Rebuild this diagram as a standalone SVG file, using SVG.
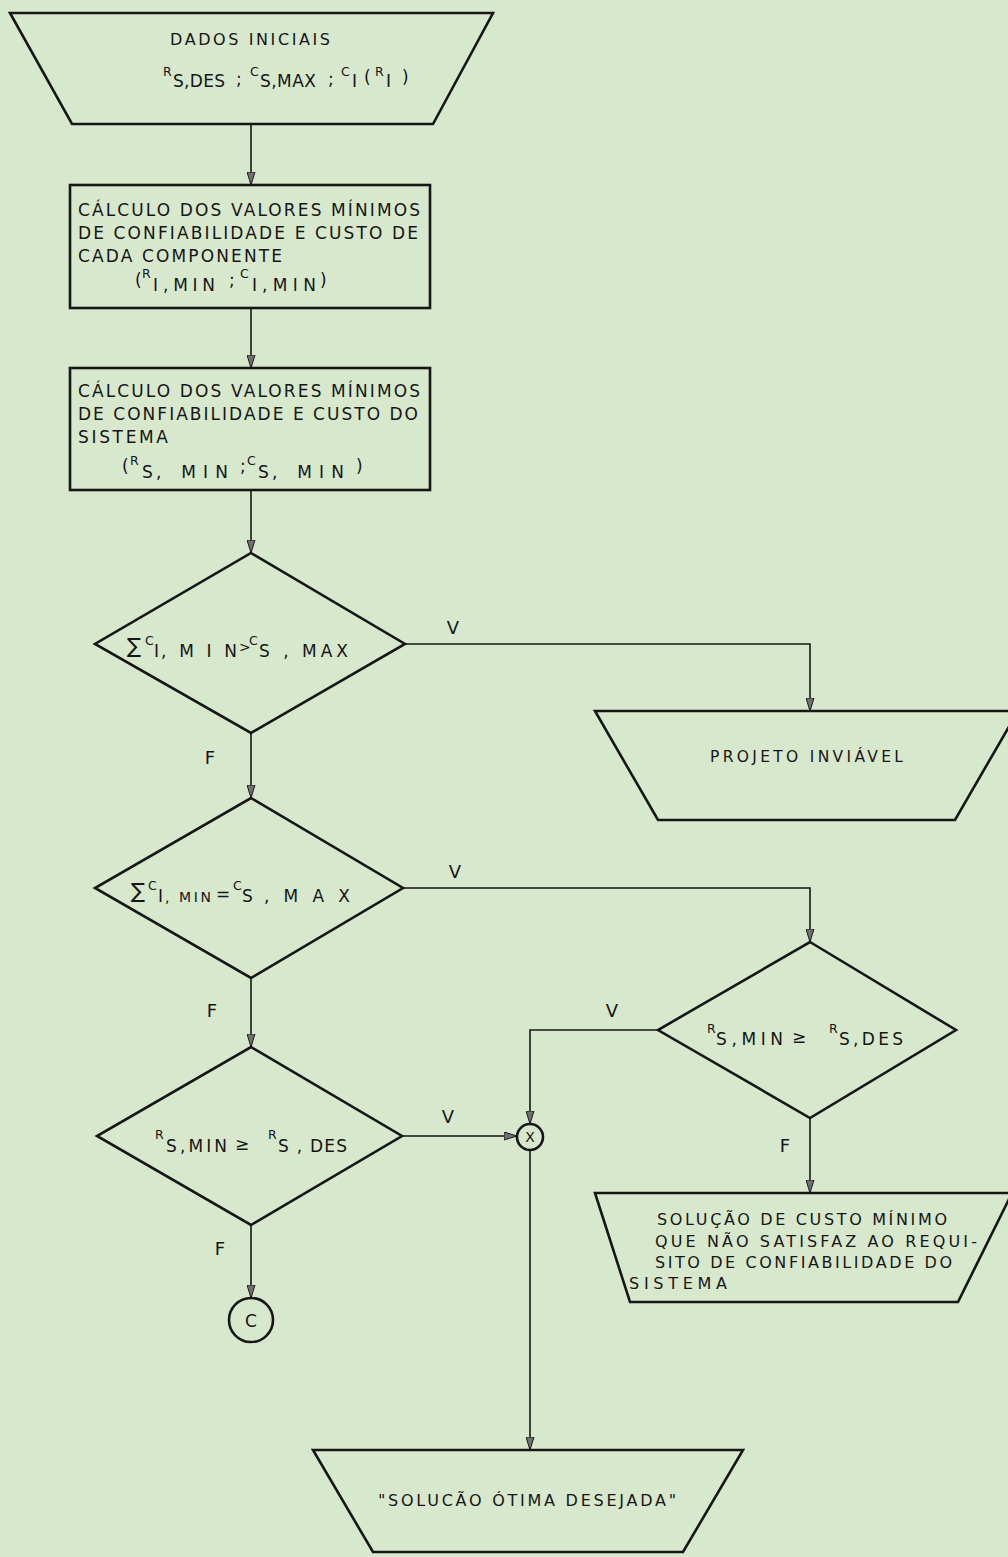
<svg xmlns="http://www.w3.org/2000/svg" width="1008" height="1557" viewBox="0 0 1008 1557">
<style>
.bg{fill:#d8e8cd}
.shape{fill:none;stroke:#161616;stroke-width:2.6;stroke-linejoin:miter}
.conn{fill:none;stroke:#161616;stroke-width:1.6}
.t{font-family:"DejaVu Sans","Liberation Sans",Arial,sans-serif;font-size:17px;fill:#161616}
.t16{font-size:16px}
.t15{font-size:15.5px}
.m{font-size:12.5px}
.sig{font-size:21px}
.small{font-size:14px}
.lbl{font-family:"DejaVu Sans","Liberation Sans",Arial,sans-serif;font-size:18px;fill:#161616;text-anchor:middle}
</style>
<defs>
<marker id="arr" markerUnits="userSpaceOnUse" markerWidth="14" markerHeight="9" refX="13" refY="4.5" orient="auto">
<path d="M0,0.5 L13,4.5 L0,8.5 z" fill="#707070" stroke="#1a1a1a" stroke-width="1"/>
</marker>
</defs>
<rect class="bg" x="0" y="0" width="1008" height="1557"/>

<g id="connectors">
<line class="conn" x1="251" y1="124" x2="251" y2="185" marker-end="url(#arr)"/>
<line class="conn" x1="251" y1="308" x2="251" y2="368" marker-end="url(#arr)"/>
<line class="conn" x1="251" y1="490" x2="251" y2="553" marker-end="url(#arr)"/>
<line class="conn" x1="251" y1="733" x2="251" y2="798" marker-end="url(#arr)"/>
<polyline class="conn" points="405,644 810,644 810,711" marker-end="url(#arr)"/>
<line class="conn" x1="251" y1="978" x2="251" y2="1047" marker-end="url(#arr)"/>
<polyline class="conn" points="403,888 810,888 810,942" marker-end="url(#arr)"/>
<polyline class="conn" points="658,1030 530,1030 530,1124" marker-end="url(#arr)"/>
<line class="conn" x1="402" y1="1136" x2="517" y2="1136" marker-end="url(#arr)"/>
<line class="conn" x1="810" y1="1118" x2="810" y2="1193" marker-end="url(#arr)"/>
<line class="conn" x1="251" y1="1225" x2="251" y2="1298" marker-end="url(#arr)"/>
<line class="conn" x1="530" y1="1150" x2="530" y2="1450" marker-end="url(#arr)"/>
<text class="lbl" x="453" y="634">V</text>
<text class="lbl" x="210" y="764">F</text>
<text class="lbl" x="455" y="878">V</text>
<text class="lbl" x="212" y="1017">F</text>
<text class="lbl" x="612" y="1017">V</text>
<text class="lbl" x="448" y="1123">V</text>
<text class="lbl" x="785" y="1152">F</text>
<text class="lbl" x="220" y="1255">F</text>
</g>

<g id="dados-iniciais">
<polygon class="shape" points="10,13 493,13 433,124 72,124"/>
<text class="t t16" x="170" y="45" textLength="160" lengthAdjust="spacing">DADOS INICIAIS</text>
<text class="t">
<tspan class="m" x="163" y="76">R</tspan><tspan x="173" y="87" textLength="52" lengthAdjust="spacing">S,DES</tspan>
<tspan x="236" y="85">;</tspan>
<tspan class="m" x="250" y="76">C</tspan><tspan x="260" y="87" textLength="56" lengthAdjust="spacing">S,MAX</tspan>
<tspan x="328" y="85">;</tspan>
<tspan class="m" x="341" y="76">C</tspan><tspan x="352" y="87">I</tspan><tspan x="364" y="83">(</tspan>
<tspan class="m" x="375" y="76">R</tspan><tspan x="386" y="87">I</tspan><tspan x="402" y="83">)</tspan>
</text>
</g>

<g id="calc-componente">
<rect class="shape" x="70" y="185" width="360" height="123"/>
<text class="t" x="78" y="216" textLength="342" lengthAdjust="spacing">CÁLCULO DOS VALORES MÍNIMOS</text>
<text class="t" x="78" y="239" textLength="340" lengthAdjust="spacing">DE CONFIABILIDADE E CUSTO DE</text>
<text class="t" x="78" y="262" textLength="204" lengthAdjust="spacing">CADA COMPONENTE</text>
<text class="t">
<tspan x="135" y="286">(</tspan>
<tspan class="m" x="142" y="278">R</tspan><tspan x="153" y="291">I</tspan><tspan x="163" y="291" textLength="52" lengthAdjust="spacing">,MIN</tspan>
<tspan x="229" y="286">;</tspan>
<tspan class="m" x="240" y="278">C</tspan><tspan x="252" y="291">I</tspan><tspan x="262" y="291" textLength="54" lengthAdjust="spacing">,MIN</tspan>
<tspan x="320" y="286">)</tspan>
</text>
</g>

<g id="calc-sistema">
<rect class="shape" x="70" y="368" width="360" height="122"/>
<text class="t" x="78" y="397" textLength="342" lengthAdjust="spacing">CÁLCULO DOS VALORES MÍNIMOS</text>
<text class="t" x="78" y="420" textLength="340" lengthAdjust="spacing">DE CONFIABILIDADE E CUSTO DO</text>
<text class="t" x="78" y="443" textLength="90" lengthAdjust="spacing">SISTEMA</text>
<text class="t">
<tspan x="122" y="472">(</tspan>
<tspan class="m" x="130" y="465">R</tspan><tspan x="142" y="478">S</tspan><tspan x="156" y="478" textLength="72" lengthAdjust="spacing">, MIN</tspan>
<tspan x="240" y="472">;</tspan>
<tspan class="m" x="247" y="465">C</tspan><tspan x="258" y="478">S</tspan><tspan x="272" y="478" textLength="72" lengthAdjust="spacing">, MIN</tspan>
<tspan x="356" y="472">)</tspan>
</text>
</g>

<g id="decisao-maior">
<polygon class="shape" points="251,553 405,644 251,733 95,644"/>
<text class="t">
<tspan class="sig" x="127" y="653">∑</tspan>
<tspan class="m" x="145" y="645">C</tspan><tspan x="154" y="657">I</tspan><tspan x="161" y="657" textLength="76" lengthAdjust="spacing">,MIN</tspan>
<tspan class="small" x="239" y="652">&gt;</tspan>
<tspan class="m" x="249" y="645">C</tspan><tspan x="259" y="657" textLength="89" lengthAdjust="spacing">S , MAX</tspan>
</text>
</g>

<g id="projeto-inviavel">
<polygon class="shape" points="595,711 1018,711 955,820 658,820"/>
<text class="t t15" x="710" y="762" textLength="193" lengthAdjust="spacing">PROJETO INVIÁVEL</text>
</g>

<g id="decisao-igual">
<polygon class="shape" points="251,798 403,888 251,978 95,888"/>
<text class="t">
<tspan class="sig" x="131" y="898">∑</tspan>
<tspan class="m" x="148" y="890">C</tspan><tspan x="158" y="902">I</tspan><tspan class="small" x="165" y="902" textLength="46" lengthAdjust="spacing">, MIN</tspan>
<tspan x="216" y="900">=</tspan>
<tspan class="m" x="233" y="890">C</tspan><tspan x="242" y="902">S</tspan><tspan x="264" y="902" textLength="86" lengthAdjust="spacing">,MAX</tspan>
</text>
</g>

<g id="decisao-confiab-direita">
<polygon class="shape" points="810,942 956,1030 810,1118 658,1030"/>
<text class="t">
<tspan class="m" x="707" y="1033">R</tspan><tspan x="716" y="1045" textLength="67" lengthAdjust="spacing">S,MIN</tspan>
<tspan x="792" y="1043">≥</tspan>
<tspan class="m" x="829" y="1033">R</tspan><tspan x="839" y="1045" textLength="64" lengthAdjust="spacing">S,DES</tspan>
</text>
</g>

<g id="decisao-confiab-esquerda">
<polygon class="shape" points="251,1047 402,1136 251,1225 97,1136"/>
<text class="t">
<tspan class="m" x="155" y="1139">R</tspan><tspan x="166" y="1152" textLength="61" lengthAdjust="spacing">S,MIN</tspan>
<tspan x="235" y="1150">≥</tspan>
<tspan class="m" x="268" y="1139">R</tspan><tspan x="278" y="1152" textLength="69" lengthAdjust="spacing">S , DES</tspan>
</text>
</g>

<g id="juncao-x">
<circle class="shape" cx="530" cy="1137" r="13" stroke-width="1.8"/>
<text class="t small" x="530" y="1142" text-anchor="middle">X</text>
</g>

<g id="solucao-custo-minimo">
<polygon class="shape" points="595,1193 1012,1193 958,1302 630,1302"/>
<text class="t t16" x="657" y="1225" textLength="290" lengthAdjust="spacing">SOLUÇÃO DE CUSTO MÍNIMO</text>
<text class="t t16" x="655" y="1247" textLength="322" lengthAdjust="spacing">QUE NÃO SATISFAZ AO REQUI-</text>
<text class="t t16" x="655" y="1268" textLength="297" lengthAdjust="spacing">SITO DE CONFIABILIDADE DO</text>
<text class="t t16" x="629" y="1289" textLength="98" lengthAdjust="spacing">SISTEMA</text>
</g>

<g id="conector-c">
<circle class="shape" cx="251" cy="1320" r="22" stroke-width="2"/>
<text class="t" x="251" y="1327" text-anchor="middle">C</text>
</g>

<g id="solucao-otima">
<polygon class="shape" points="313,1450 743,1450 683,1552 373,1552"/>
<text class="t t16" x="378" y="1506" textLength="298" lengthAdjust="spacing">"SOLUCÃO ÓTIMA DESEJADA"</text>
</g>
</svg>
